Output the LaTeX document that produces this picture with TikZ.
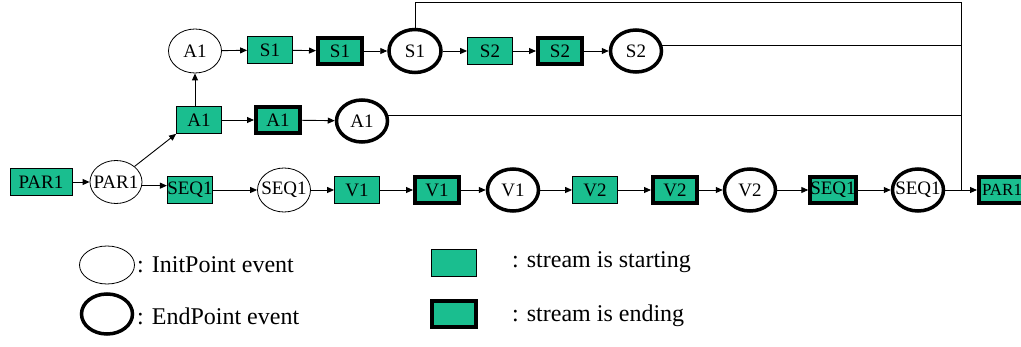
\documentclass[tikz,border=0pt]{standalone}
\usepackage{fontspec}
\setmainfont{Liberation Serif}
\newfontfamily\tnr{Liberation Serif}
\usetikzlibrary{shapes.geometric,arrows.meta}
\definecolor{grn}{RGB}{26,190,143}
\tikzset{
  x=1pt,y=-1pt,
  arr/.style={line width=0.9pt,-{Triangle[length=7pt,width=6pt]}},
  ln/.style={line width=0.9pt},
  nfont/.style={font=\tnr\fontsize{19}{20}\selectfont},
  sbox/.style={nfont,draw,fill=grn,line width=0.8pt,minimum width=45pt,minimum height=27pt,inner sep=0pt},
  ebox/.style={nfont,draw,fill=grn,line width=4pt,minimum width=44pt,minimum height=26pt,inner sep=0pt},
  iev/.style={nfont,draw,ellipse,line width=0.8pt,minimum width=53pt,minimum height=44pt,inner sep=0pt},
  eev/.style={nfont,draw,ellipse,line width=3.5pt,minimum width=51pt,minimum height=42pt,inner sep=0pt},
  wide/.style={inner xsep=-8pt},
  legtext/.style={anchor=west,font=\tnr\fontsize{24}{26}\selectfont,inner sep=0pt}
}
\begin{document}
\begin{tikzpicture}
\useasboundingbox[fill=white] (0,0) rectangle (1021,347);
% bottom row
\node[sbox,minimum width=62pt] (par1r) at (41,182) {PAR1};
\node[iev,wide,minimum width=52pt,minimum height=43pt] (par1e) at (116,182) {PAR1};
\node[sbox] (seq1r) at (190,190) {SEQ1};
\node[iev,wide] (seq1e) at (284,190) {SEQ1};
\node[sbox] (v1r) at (357,190) {V1};
\node[ebox] (v1t) at (437,190) {V1};
\node[eev] (v1f) at (513,190) {V1};
\node[sbox] (v2r) at (595,190) {V2};
\node[ebox] (v2t) at (675,190) {V2};
\node[eev] (v2f) at (750,190) {V2};
\node[ebox] (seq1t) at (833,190) {SEQ1};
\node[eev,wide] (seq1f) at (918,190) {SEQ1};
\node[ebox,font=\tnr\fontsize{17}{18}\selectfont,minimum width=46pt] (par1t) at (1002,190) {PAR1};
% middle row
\node[sbox] (a1r) at (199,120) {A1};
\node[ebox] (a1t) at (278,120) {A1};
\node[eev] (a1f) at (362,121) {A1};
% top row
\node[iev] (a1e) at (195,51) {A1};
\node[sbox] (s1r) at (270,50) {S1};
\node[ebox] (s1t) at (340,51) {S1};
\node[eev,minimum width=52pt,minimum height=43pt] (s1f) at (415,51) {S1};
\node[sbox] (s2r) at (490,51) {S2};
\node[ebox] (s2t) at (560,51) {S2};
\node[eev] (s2f) at (636,51) {S2};
% corner coordinates
\coordinate (top) at (961,2);
\coordinate (join) at (961,190);
% arrows bottom row
\draw[arr] (par1r) -- (par1e);
\draw[arr] (par1e.-8) -- (par1e.-8 -| seq1r.west);
\draw[arr] (seq1r) -- (seq1e);
\draw[arr] (seq1e) -- (v1r);
\draw[arr] (v1r) -- (v1t);
\draw[arr] (v1t) -- (v1f);
\draw[arr] (v1f) -- (v2r);
\draw[arr] (v2r) -- (v2t);
\draw[arr] (v2t) -- (v2f);
\draw[arr] (v2f) -- (seq1t);
\draw[arr] (seq1t) -- (seq1f);
\draw[arr] (seq1f) -- (par1t);
% branch
\draw[arr] (par1e.40) -- (a1r.south west);
\draw[arr] (a1r.north -| a1e) -- (a1e.south);
\draw[arr] (a1r) -- (a1t);
\draw[arr] (a1t) -- (a1f);
\draw[arr] (a1e) -- (s1r);
\draw[arr] (s1r) -- (s1t);
\draw[arr] (s1t) -- (s1f);
\draw[arr] (s1f) -- (s2r);
\draw[arr] (s2r) -- (s2t);
\draw[arr] (s2t) -- (s2f);
% return lines
\draw[ln] (s1f.north) |- (top) -- (join);
\draw[ln] (s2f.12) -- (s2f.12 -| top);
\draw[ln] (a1f.12) -- (a1f.12 -| top);
% legend
\node[iev,minimum width=55pt,minimum height=38pt] (leg1) at (107,265) {};
\node[eev,minimum width=51pt,minimum height=40pt] (leg2) at (107,314) {};
\node[legtext] (leg1t) at (137,265) {: InitPoint event};
\node[legtext] (leg2t) at (137,316) {: EndPoint event};
\node[sbox] (leg3) at (454,263) {};
\node[ebox] (leg4) at (454,314) {};
\node[legtext] (leg3t) at (512,262) {: stream is starting};
\node[legtext] (leg4t) at (512,316) {: stream is ending};
\end{tikzpicture}
\end{document}
